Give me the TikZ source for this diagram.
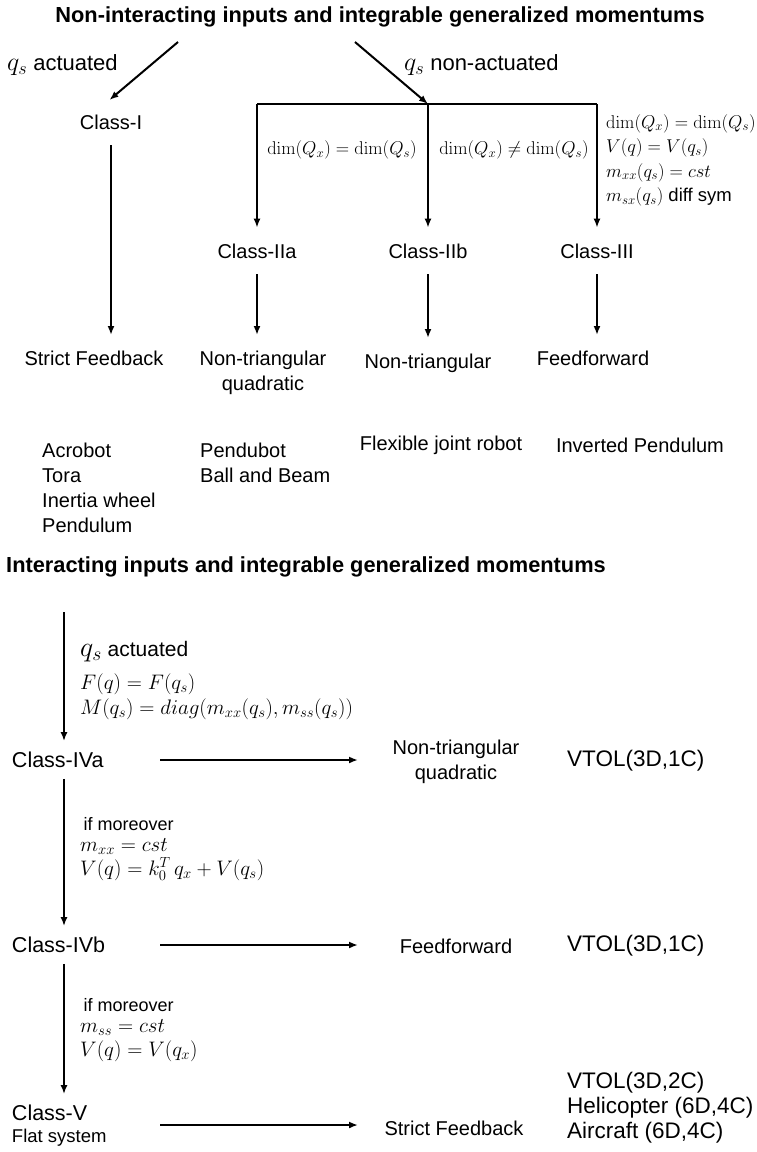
\RequirePackage{fix-cm}
\documentclass[tikz,border=0pt]{standalone}
\usepackage{amsmath}
\usepackage[no-math]{fontspec}
\setmainfont{Liberation Sans}
\usetikzlibrary{arrows.meta,positioning}

\tikzset{
  lbl/.style={font=\fontsize{20}{25}\selectfont, inner sep=4pt, outer sep=12pt},
  hdr/.style={font=\bfseries\fontsize{21.8}{24}\selectfont, inner sep=0pt},
  cond/.style={font=\fontsize{18.5}{24.5}\selectfont, align=left, inner sep=0pt},
  ex/.style={font=\fontsize{20}{25}\selectfont, align=left, inner sep=0pt},
  arr/.style={line width=2pt, -{Latex[length=9pt,width=7pt]}},
  bar/.style={line width=2pt},
}
\newcommand{\bigq}[1]{{\fontsize{#1}{#1}\selectfont$q_s$}}

\begin{document}
\begin{tikzpicture}[x=1pt,y=-1pt]
  \useasboundingbox (0,0) rectangle (757,1152);

  % non-interacting inputs
  \node[hdr] (t1) at (380,17) {Non-interacting inputs and integrable generalized momentums};
  \node[lbl, anchor=west, inner sep=0pt, outer sep=0pt, font=\fontsize{22}{25}\selectfont] (qa) at (7,65) {\bigq{26} actuated};
  \node[lbl, anchor=west, inner sep=0pt, outer sep=0pt, font=\fontsize{22}{25}\selectfont] (qn) at (404,65) {\bigq{26} non-actuated};

  \coordinate (a1) at (178,42);
  \coordinate (a2) at (355,42);
  \coordinate (b1) at (257,104);
  \coordinate (split) at (428,104);
  \coordinate (b3) at (597,104);

  \node[lbl] (c1) at (111,122) {Class-I};
  \node[lbl] (c2a) at (257,251) {Class-IIa};
  \node[lbl] (c2b) at (428,251) {Class-IIb};
  \node[lbl] (c3) at (597,251) {Class-III};

  \draw[arr, shorten >=-2pt] (a1) -- (c1.north);
  \draw[arr] (a2) -- (split);
  \draw[bar] (b1) -- (b3);
  \foreach \c/\k in {b1/c2a, split/c2b, b3/c3}
    \draw[arr] (\c) -- (\k.north);

  \node[cond] (d1) at (342,150) {$\dim(Q_x)=\dim(Q_s)$};
  \node[cond] (d2) at (514,150) {$\dim(Q_x)\neq\dim(Q_s)$};
  \node[cond, anchor=north west] (d3) at (606,114) {$\dim(Q_x)=\dim(Q_s)$\\
    $V(q)=V(q_s)$\\ $m_{xx}(q_s)=cst$\\ $m_{sx}(q_s)$ diff sym};

  \node[lbl, anchor=north] (sf1) at (94,335) {Strict Feedback};
  \node[lbl, anchor=north, align=center] (nt1) at (263,335) {Non-triangular\\quadratic};
  \node[lbl, anchor=north] (nt2) at (428,338) {Non-triangular};
  \node[lbl, anchor=north] (ff1) at (593,335) {Feedforward};

  \draw[arr] (c1.south) -- (c1.south |- sf1.north);
  \draw[arr] (c2a.south) -- (c2a.south |- nt1.north);
  \draw[arr] (c2b.south) -- (c2b.south |- nt2.north);
  \draw[arr] (c3.south) -- (c3.south |- ff1.north);

  \node[ex, anchor=north west] (ex1) at (42,443) {Acrobot\\Tora\\Inertia wheel\\Pendulum};
  \node[ex, anchor=north west] (ex2) at (200,443) {Pendubot\\Ball and Beam};
  \node[ex] (ex3) at (441,445) {Flexible joint robot};
  \node[ex] (ex4) at (640,445) {Inverted Pendulum};

  % interacting inputs
  \node[hdr, anchor=west] (t2) at (6,567) {Interacting inputs and integrable generalized momentums};

  \coordinate (s4) at (64,612);
  \coordinate (hs) at (160,0);
  \coordinate (he) at (358,0);
  \coordinate (r5) at (0,1125);

  \node[lbl, anchor=west, outer sep=7pt, font=\fontsize{21.5}{25}\selectfont] (c4a) at (1,760) {Class-IVa};
  \node[lbl, anchor=west, outer sep=7pt, font=\fontsize{21.5}{25}\selectfont] (c4b) at (1,945) {Class-IVb};
  \node[lbl, anchor=west, outer sep=7pt, font=\fontsize{21.5}{25}\selectfont] (c5) at (1,1113) {Class-V};
  \node[lbl, anchor=west, inner sep=0pt, outer sep=0pt, font=\fontsize{18.5}{20}\selectfont] (fs) at (12,1138) {Flat system};

  \draw[arr] (s4) -- (s4 |- c4a.north);
  \draw[arr] (s4 |- c4a.south) -- (s4 |- c4b.north);
  \draw[arr] (s4 |- c4b.south) -- (s4 |- c5.north);

  \node[cond, anchor=north west, font=\fontsize{21}{25}\selectfont] (k1) at (80,641) {\bigq{28} actuated\\[8pt]
    $F(q)=F(q_s)$\\ $M(q_s)=diag(m_{xx}(q_s),m_{ss}(q_s))$};
  \node[cond, anchor=north west, font=\fontsize{21}{21}\selectfont] (k2) at (80,817) {\,{\fontsize{18}{21}\selectfont if moreover}\\
    $m_{xx}=cst$\\[3pt] $V(q)=k_0^T\,q_x+V(q_s)$};
  \node[cond, anchor=north west, font=\fontsize{21}{21}\selectfont] (k3) at (80,998) {\,{\fontsize{18}{21}\selectfont if moreover}\\
    $m_{ss}=cst$\\[3pt] $V(q)=V(q_x)$};

  \node[lbl, align=center, inner sep=0pt] (nt3) at (456,762) {Non-triangular\\quadratic};
  \node[lbl, inner sep=0pt] (ff2) at (456,946) {Feedforward};
  \node[lbl, inner sep=0pt] (sf2) at (454,1128) {Strict Feedback};

  \draw[arr] (hs |- c4a) -- (he |- c4a);
  \draw[arr] (hs |- c4b) -- (he |- c4b);
  \draw[arr] (hs |- r5) -- (he |- r5);

  \node[ex, anchor=west, font=\fontsize{22.5}{25}\selectfont] (v1) at (567,761) {VTOL(3D,1C)};
  \node[ex, anchor=west, font=\fontsize{22.5}{25}\selectfont] (v2) at (567,946) {VTOL(3D,1C)};
  \node[ex, anchor=west, font=\fontsize{22.5}{25}\selectfont] (v3) at (567,1108) {VTOL(3D,2C)\\Helicopter (6D,4C)\\Aircraft (6D,4C)};
\end{tikzpicture}
\end{document}
